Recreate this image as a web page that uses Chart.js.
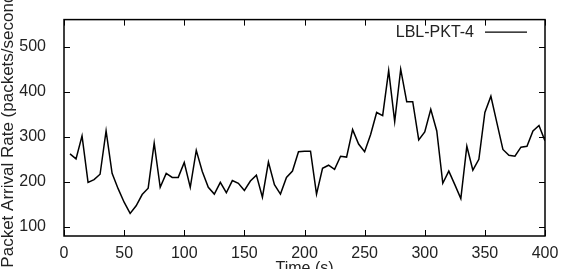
<!DOCTYPE html>
<html>
<head>
<meta charset="utf-8">
<script src="https://cdn.jsdelivr.net/npm/chart.js@4/dist/chart.umd.min.js"></script>
<style>
  html, body { margin: 0; padding: 0; background: #fff; }
  #wrap { width: 563px; height: 269px; }
</style>
</head>
<body>
<div id="wrap"><canvas id="chart"></canvas></div>
<script>
// Data
const seriesLabel = 'LBL-PKT-4';
const times = [
    5, 10, 15, 20, 25, 30, 35, 40, 45, 50,
    55, 60, 65, 70, 75, 80, 85, 90, 95, 100,
    105, 110, 115, 120, 125, 130, 135, 140, 145, 150,
    155, 160, 165, 170, 175, 180, 185, 190, 195, 200,
    205, 210, 215, 220, 225, 230, 235, 240, 245, 250,
    255, 260, 265, 270, 275, 280, 285, 290, 295, 300,
    305, 310, 315, 320, 325, 330, 335, 340, 345, 350,
    355, 360, 365, 370, 375, 380, 385, 390, 395, 400
];
const rates = [
    262, 251, 302, 199, 205, 217, 313, 219, 185, 155,
    130, 147, 172, 186, 286, 188, 219, 210, 210, 243,
    188, 270, 223, 188, 173, 199, 176, 203, 197, 181,
    202, 215, 166, 244, 194, 173, 210, 224, 267, 268,
    268, 173, 230, 237, 228, 257, 255, 316, 284, 267,
    305, 354, 347, 447, 334, 450, 378, 378, 293, 311,
    361, 313, 197, 224, 194, 163, 279, 226, 250, 354,
    390, 331, 272, 259, 257, 277, 279, 313, 325, 291
];
const xTicks = [0, 50, 100, 150, 200, 250, 300, 350, 400];
const yTicks = [100, 200, 300, 400, 500];

const textColor = '#222';
const fontFamily = "'Liberation Sans', Arial, Helvetica, sans-serif";

// Frame, inward ticks on all four sides, and the gnuplot style key
const framePlugin = {
    id: 'frame',
    afterDatasetsDraw(chart) {
        const { ctx, chartArea: a, scales } = chart;
        const len = 6;
        ctx.save();
        ctx.strokeStyle = '#000';
        ctx.lineWidth = 1;
        ctx.beginPath();
        scales.x.ticks.forEach(t => {
            const px = Math.round(scales.x.getPixelForValue(t.value)) + 0.5;
            ctx.moveTo(px, a.bottom); ctx.lineTo(px, a.bottom - len);
            ctx.moveTo(px, a.top); ctx.lineTo(px, a.top + len);
        });
        scales.y.ticks.forEach(t => {
            const py = Math.round(scales.y.getPixelForValue(t.value)) + 0.5;
            ctx.moveTo(a.left, py); ctx.lineTo(a.left + len, py);
            ctx.moveTo(a.right, py); ctx.lineTo(a.right - len, py);
        });
        ctx.stroke();
        ctx.lineWidth = 1.5;
        ctx.strokeRect(a.left, a.top, a.right - a.left, a.bottom - a.top);

        // key
        const ky = a.top + 12;
        const kx = a.right - 71;
        ctx.font = '16px ' + fontFamily;
        ctx.fillStyle = textColor;
        ctx.textAlign = 'right';
        ctx.textBaseline = 'middle';
        ctx.fillText(chart.data.datasets[0].label, kx, ky + 1);
        ctx.lineWidth = 1.2;
        ctx.beginPath();
        ctx.moveTo(kx + 11, ky + 0.5);
        ctx.lineTo(kx + 53, ky + 0.5);
        ctx.stroke();
        ctx.restore();
    }
};

function createChart() {
    const ctx = document.getElementById('chart').getContext('2d');
    new Chart(ctx, {
        type: 'line',
        data: {
            datasets: [{
                label: seriesLabel,
                data: times.map((t, i) => ({ x: t, y: rates[i] })),
                borderColor: '#000',
                borderWidth: 1.5,
                pointRadius: 0,
                tension: 0,
                fill: false
            }]
        },
        options: {
            responsive: true,
            maintainAspectRatio: false,
            animation: false,
            layout: { padding: { top: 13, right: 18, left: 0, bottom: 0 } },
            plugins: {
                legend: { display: false },
                tooltip: { enabled: false }
            },
            scales: {
                x: {
                    type: 'linear',
                    min: 0,
                    max: 400,
                    afterBuildTicks: s => { s.ticks = xTicks.map(v => ({ value: v })); },
                    afterFit: s => { s.height = 33; },
                    grid: { display: false },
                    border: { display: false },
                    ticks: {
                        color: textColor,
                        padding: 0,
                        maxRotation: 0,
                        font: { family: fontFamily, size: 16 }
                    },
                    title: {
                        display: true,
                        text: 'Time (s)',
                        color: textColor,
                        padding: { top: 0, bottom: -9.5 },
                        font: { family: fontFamily, size: 16 }
                    }
                },
                y: {
                    min: 80,
                    max: 560,
                    afterBuildTicks: s => { s.ticks = yTicks.map(v => ({ value: v })); },
                    afterFit: s => { s.width = 64; },
                    grid: { display: false },
                    border: { display: false },
                    ticks: {
                        color: textColor,
                        padding: 10,
                        font: { family: fontFamily, size: 16 }
                    },
                    title: {
                        display: true,
                        text: 'Packet Arrival Rate (packets/second)',
                        color: textColor,
                        padding: { top: -2, bottom: 0 },
                        font: { family: fontFamily, size: 17 }
                    }
                }
            }
        },
        plugins: [framePlugin]
    });
}

document.addEventListener('DOMContentLoaded', createChart);
</script>
</body>
</html>
